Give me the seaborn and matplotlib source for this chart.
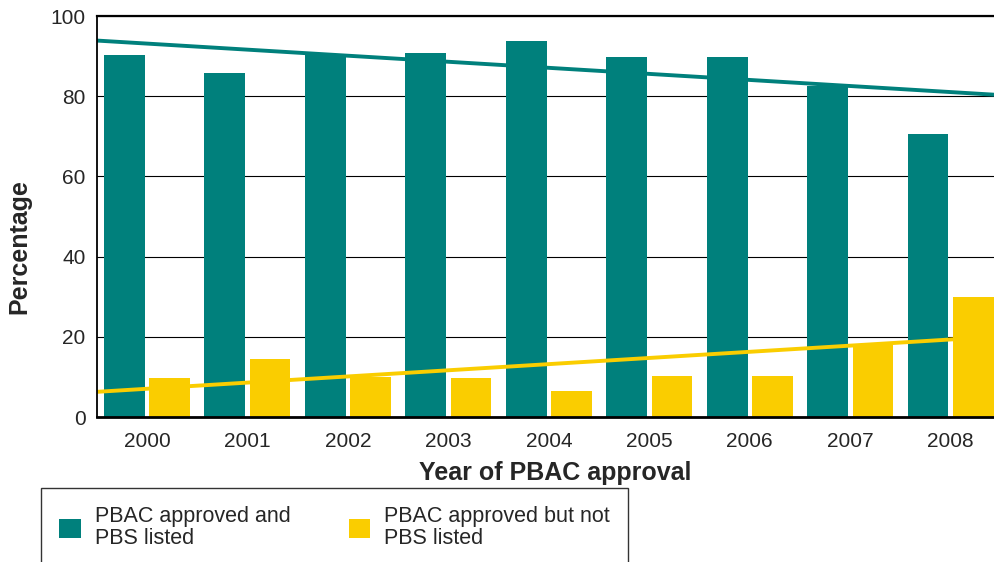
import numpy as np
import pandas as pd
import seaborn as sns
import matplotlib.pyplot as plt

# values
years = ['2000', '2001', '2002', '2003', '2004', '2005', '2006', '2007', '2008']
listed = [90.3, 85.8, 90.3, 90.8, 93.8, 89.8, 89.8, 82.5, 70.6]
not_listed = [9.7, 14.5, 10.0, 9.7, 6.5, 10.2, 10.2, 18.0, 29.9]
series_names = ['PBAC approved and\nPBS listed', 'PBAC approved but not\nPBS listed']
y_ticks = [0, 20, 40, 60, 80, 100]

teal = '#00807C'
yellow = '#FACD00'

sns.set_style('white')
plt.rcParams['font.family'] = ['Liberation Sans', 'DejaVu Sans']

df = pd.DataFrame({
    'year': years * 2,
    'pct': listed + not_listed,
    'group': [series_names[0]] * len(years) + [series_names[1]] * len(years),
})

fig = plt.figure(figsize=(9.95, 5.62), dpi=100)
ax = fig.add_axes([0.0972, 0.258, 0.9088, 0.7135])

# gridlines behind bars
ax.set_axisbelow(True)
ax.yaxis.grid(True, color='black', linewidth=0.8)

sns.barplot(data=df, x='year', y='pct', hue='group', palette=[teal, yellow],
            width=0.9, gap=0.1, saturation=1, linewidth=0, ax=ax, legend=True)

ax.set_xlim(-0.5, 8.5)
ax.set_ylim(0, 100)

# linear trend lines across the whole axis
pos = np.arange(len(years))
sns.regplot(x=pos, y=np.array(listed), scatter=False, ci=None, truncate=False,
            color=teal, line_kws={'linewidth': 2.8}, ax=ax)
sns.regplot(x=pos, y=np.array(not_listed), scatter=False, ci=None, truncate=False,
            color=yellow, line_kws={'linewidth': 2.8}, ax=ax)
ax.set_xlim(-0.5, 8.5)
ax.set_ylim(0, 100)

ax.set_yticks(y_ticks)
ax.set_xticks(pos)
ax.set_xticklabels(years)
ax.tick_params(axis='both', length=0, labelsize=15)
ax.tick_params(axis='x', pad=11)
ax.tick_params(axis='y', pad=8)

for side in ['left', 'bottom', 'top']:
    ax.spines[side].set_visible(True)
    ax.spines[side].set_color('black')
ax.spines['left'].set_linewidth(1.3)
ax.spines['bottom'].set_linewidth(2.0)
ax.spines['top'].set_linewidth(1.6)
ax.spines['right'].set_visible(False)

ax.set_xlabel('Year of PBAC approval', fontsize=18, fontweight='bold')
ax.set_ylabel('Percentage', fontsize=18, fontweight='bold')
ax.xaxis.set_label_coords(0.5075, -0.11)
ax.yaxis.set_label_coords(-0.072, 0.426)

ax.get_legend().remove()
handles, labels = ax.get_legend_handles_labels()
leg = fig.legend(handles[:2], series_names, ncol=2, loc='upper left',
                 bbox_to_anchor=(0.0412, 1 - 488 / 562), borderaxespad=0,
                 fontsize=15.5, frameon=True, fancybox=False, framealpha=1,
                 edgecolor='#333333', handlelength=1.0, handleheight=1.0,
                 handletextpad=0.65, columnspacing=2.7, borderpad=0.85)
leg.get_frame().set_linewidth(1.0)
for t in leg.get_texts():
    t.set_linespacing(1.05)

fig.savefig('out.png', dpi=100)
